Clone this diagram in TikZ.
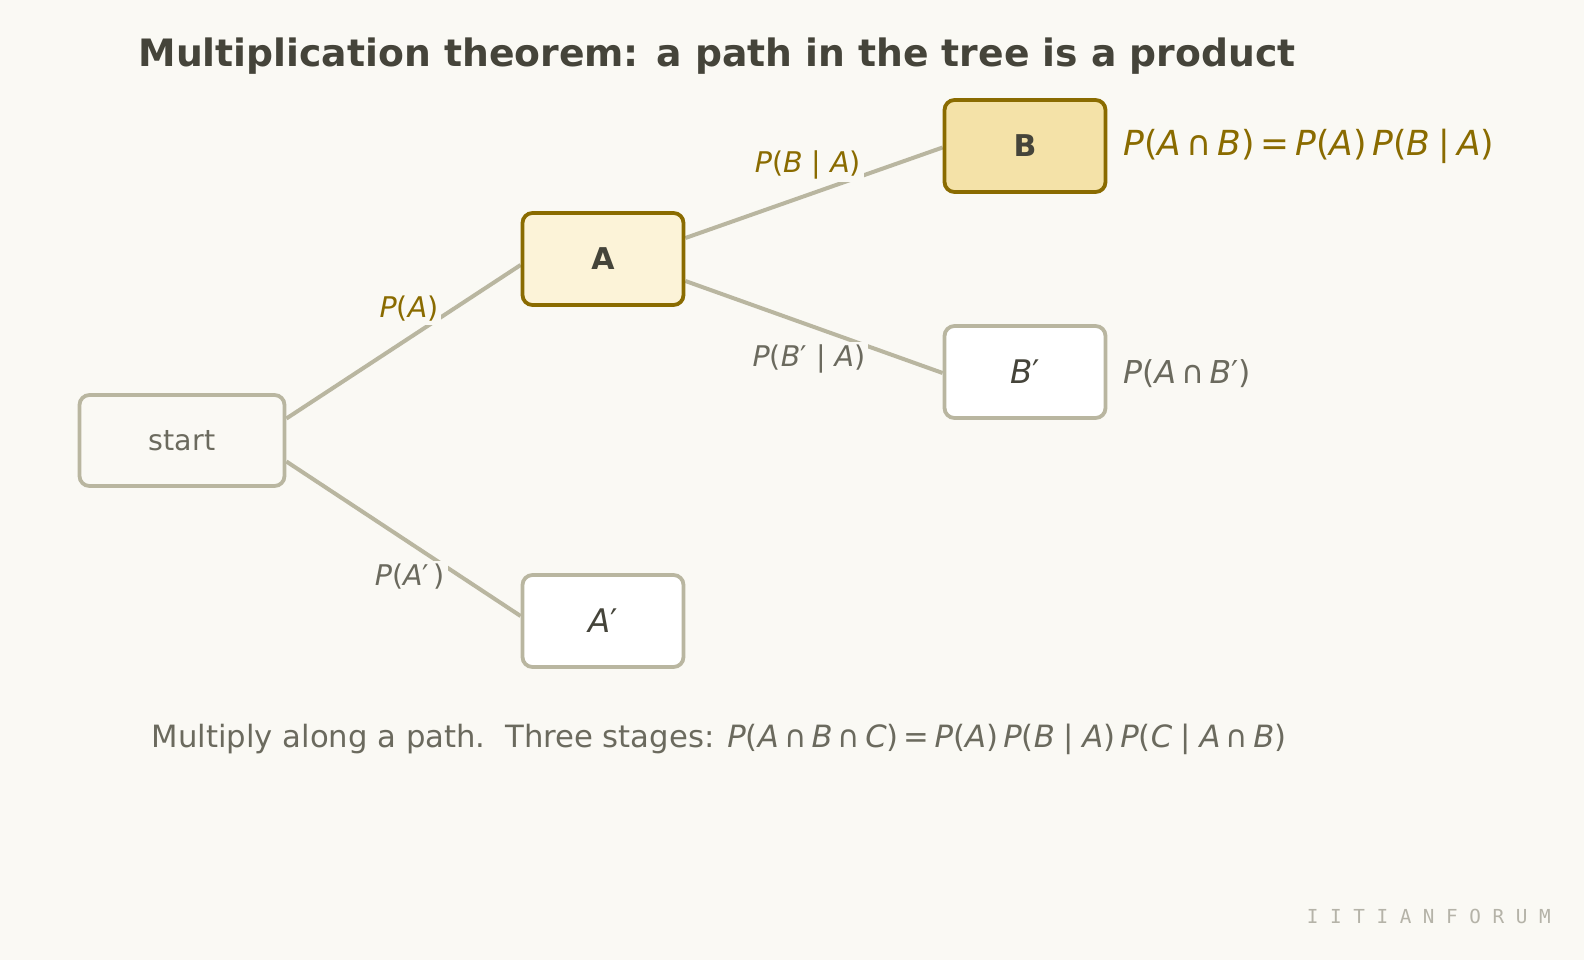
\documentclass[tikz,border=0pt]{standalone}
\usepackage{fontspec}
\setmainfont{DejaVu Sans}
\newfontfamily\wmfont{DejaVu Sans Mono}
\usetikzlibrary{calc}
\definecolor{pagebg}{HTML}{FAF9F4}
\definecolor{edgegray}{HTML}{B9B6A0}
\definecolor{gold}{HTML}{8A6B00}
\definecolor{darktext}{HTML}{45443A}
\definecolor{graytext}{HTML}{6B6A5E}
\definecolor{afill}{HTML}{FCF3D8}
\definecolor{bfill}{HTML}{F4E2A8}
\definecolor{wmgray}{HTML}{B5B3A8}
\pgfdeclarelayer{bg}
\pgfdeclarelayer{page}
\pgfsetlayers{page,bg,main}
\newcommand{\mi}[1]{\textit{#1}}
\newcommand{\fs}[1]{\fontsize{#1}{#1}\selectfont}
\tikzset{
  box/.style={draw, rounded corners=10pt, line width=3.8pt, inner sep=0pt, minimum width=161pt, minimum height=92pt},
  graybox/.style={box, draw=edgegray},
  goldbox/.style={box, draw=gold},
  edge/.style={draw=edgegray, line width=4pt},
  elabel/.style={fill=pagebg, inner sep=3pt, font=\fs{28.5}},
}
\begin{document}
\begin{tikzpicture}[x=1pt,y=1pt]
\begin{pgfonlayer}{page}
\fill[pagebg] (0,0) rectangle (1584,-960);
\end{pgfonlayer}
\useasboundingbox (0,0) rectangle (1584,-960);

\node[text=darktext, font=\bfseries\fs{37.7}] (title) at (717,-56) {Multiplication theorem: a path in the tree is a product};

\node[graybox, minimum width=205pt, minimum height=91pt, text=graytext, font=\fs{28.5}] (start) at (182,-440.5) {start};
\node[goldbox, fill=afill, text=darktext, font=\bfseries\fs{30}] (A) at (603,-259) {A};
\node[graybox, fill=white, text=darktext, font=\fs{32.5}] (Ap) at (603,-621) {\mi{A}′};
\node[goldbox, fill=bfill, text=darktext, font=\bfseries\fs{30}] (B) at (1025,-146) {B};
\node[graybox, fill=white, text=darktext, font=\fs{32.5}] (Bp) at (1025,-372) {\mi{B}′};

\begin{pgfonlayer}{bg}
\draw[edge] ($(start.east)+(0,22)$) -- ($(A.west)+(0,-6)$);
\draw[edge] ($(start.east)+(0,-21)$) -- ($(Ap.west)+(0,5)$);
\draw[edge] ($(A.east)+(0,21)$) -- ($(B.west)+(0,-1.5)$);
\draw[edge] ($(A.east)+(0,-22)$) -- ($(Bp.west)+(0,-1)$);
\end{pgfonlayer}

\node[elabel, text=gold] (lA) at (409,-309) {\mi{P}(\mi{A})};
\node[elabel, text=graytext] (lAp) at (410,-577) {\mi{P}(\mi{A}′\,)};
\node[elabel, text=gold] (lBA) at (808,-165) {\mi{P}(\mi{B} | \mi{A})};
\node[elabel, text=graytext] (lBpA) at (809,-359) {\mi{P}(\mi{B}′ | \mi{A})};

\node[anchor=west, text=gold, font=\fs{34.5}, inner sep=0pt] (rB) at (1123,-146.5) {\mi{P}(\mi{A}\,∩\,\mi{B})\,=\,\mi{P}(\mi{A})\,\mi{P}(\mi{B}\:|\:\mi{A})};
\node[anchor=west, text=graytext, font=\fs{31.5}, inner sep=0pt] (rBp) at (1123,-374) {\mi{P}(\mi{A}\,∩\,\mi{B}′)};

\node[anchor=west, text=graytext, font=\fs{30.7}, inner sep=0pt] (note) at (151.5,-739.5) {Multiply along a path.\ \ Three stages: \mi{P}(\mi{A}\,∩\,\mi{B}\,∩\,\mi{C})\,=\,\mi{P}(\mi{A})\,\mi{P}(\mi{B}\;|\;\mi{A})\,\mi{P}(\mi{C}\;|\;\mi{A}\,∩\,\mi{B})};

\node[anchor=east, text=wmgray, font=\wmfont\fs{19.3}, inner sep=0pt] (wm) at (1551,-916) {I I T I A N F O R U M};
\end{tikzpicture}
\end{document}
